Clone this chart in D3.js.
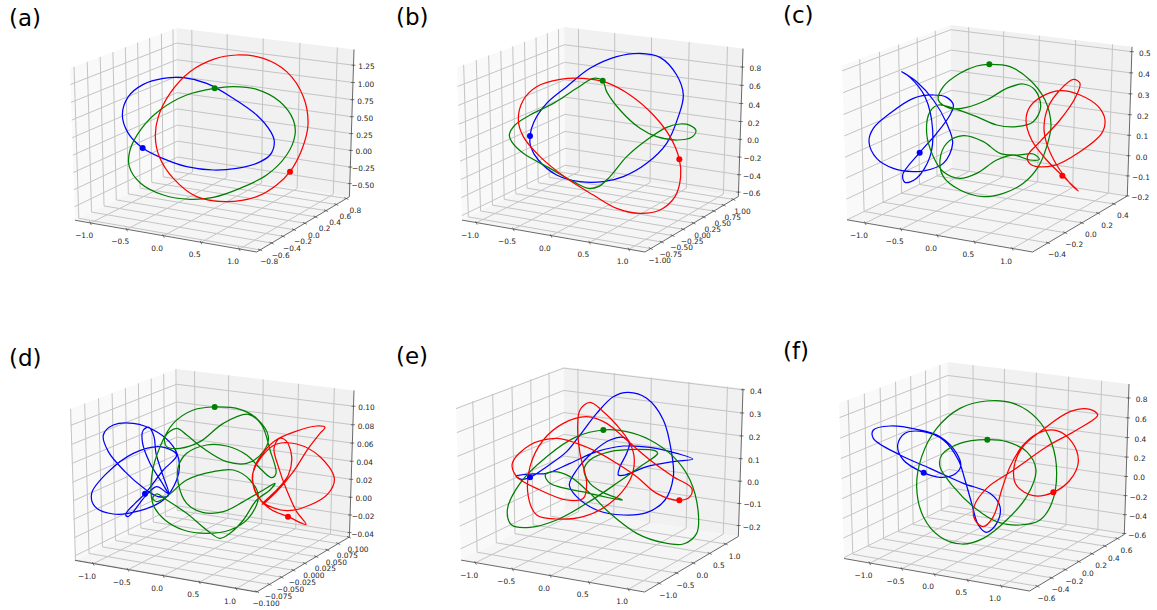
<!DOCTYPE html>
<html>
<head>
<meta charset="utf-8">
<script src="https://cdn.jsdelivr.net/npm/d3@7"></script>
<style>
body { margin: 0; background: #fff; }
text { font-family: "DejaVu Sans", sans-serif; fill: #262626; }
</style>
</head>
<body>
<svg id="chart" width="1157" height="610"></svg>
<script>
// orbit points: first value on the x axis, second is
// the height in units of the panel's zUnit. first point of each is the body
const aBlue = [[-.848,.032],[-1.02,.208],[-1.092,.428],[-1.02,.648],[-.84,.796],[-.6,.868],[-.36,.876],[-.08,.808],[.24,.628],[.52,.428],[.688,.228],[.732,.108],[.68,-.052],[.52,-.152],[.28,-.212],[0,-.232],[-.32,-.192],[-.6,-.096]];
const aGreen = [[.016,.748],[.24,.768],[.52,.736],[.8,.588],[.96,.368],[.98,.188],[.88,-.052],[.64,-.292],[.32,-.452],[0,-.56],[-.28,-.584],[-.6,-.532],[-.88,-.384],[-1.008,-.192],[-1,.008],[-.86,.268],[-.64,.488],[-.32,.668]];
const aRed = [[.92,-.252],[1.06,.008],[1.136,.308],[1.08,.648],[.88,.948],[.6,1.108],[.28,1.148],[0,1.096],[-.28,.948],[-.52,.688],[-.66,.408],[-.696,.168],[-.648,-.072],[-.48,-.332],[-.2,-.552],[.16,-.612],[.52,-.552],[.76,-.412]];

const bBlue = [[-.88,.036],[-.832,.208],[-.68,.428],[-.44,.628],[-.16,.848],[.16,.988],[.44,1.028],[.68,.98],[.88,.768],[.96,.528],[.9,.268],[.76,-.052],[.52,-.292],[.24,-.452],[0,-.512],[-.28,-.512],[-.56,-.432],[-.78,-.252],[-.872,-.092]];
const bGreen = [[-.008,.7],[.04,.568],[.2,.348],[.44,.128],[.64,.028],[.88,-.012],[1.06,.02],[1.112,.1],[1.04,.164],[.92,.18],[.76,.14],[.52,-.012],[.28,-.212],[.08,-.452],[-.06,-.572],[-.18,-.592],[-.36,-.512],[-.64,-.352],[-.96,-.172],[-1.1,-.032],[-1.128,.048],[-1.06,.168],[-.88,.288],[-.6,.428],[-.32,.608],[-.12,.728]];
const bRed = [[.912,-.244],[.928,-.452],[.86,-.692],[.68,-.852],[.44,-.892],[.16,-.832],[-.12,-.672],[-.44,-.472],[-.76,-.212],[-.96,.028],[-1.02,.228],[-.96,.468],[-.8,.628],[-.52,.716],[-.24,.728],[.04,.676],[.32,.528],[.6,.288],[.8,.028]];

const cBlue = [[-.764,.032],[-.56,.264],[-.4,.484],[-.36,.604],[-.44,.696],[-.6,.724],[-.84,.684],[-1.12,.504],[-1.32,.324],[-1.372,.164],[-1.28,-.036],[-1.08,-.156],[-.84,-.196],[-.72,-.188],[-.48,-.096],[-.368,.144],[-.44,.384],[-.6,.664],[-.8,.884],[-.98,1.004],[-.88,.936],[-.7,.704],[-.608,.304],[-.64,-.016],[-.8,-.276],[-.94,-.324],[-.968,-.236]];
const cGreen = [[.072,1.092],[.32,1.064],[.56,.904],[.74,.664],[.812,.364],[.76,.104],[.66,-.136],[.48,-.336],[.24,-.456],[0,-.496],[-.28,-.416],[-.48,-.256],[-.52,-.056],[-.44,.144],[-.24,.236],[0,.164],[.2,.024],[.4,.004],[.6,.016],[.672,-.048],[.56,-.056],[.36,.004],[.16,-.056],[-.08,-.216],[-.28,-.276],[-.48,-.196],[-.6,-.016],[-.68,.264],[-.64,.524],[-.54,.604],[-.36,.564],[-.08,.464],[.16,.364],[.4,.344],[.6,.404],[.688,.584],[.62,.784],[.48,.856],[.28,.804],[.04,.664],[-.2,.576],[-.4,.564],[-.54,.664],[-.48,.824],[-.28,.984],[-.08,1.072]];
const cRed = [[.948,-.244],[1.14,-.428],[1.04,-.336],[.88,-.116],[.76,.144],[.728,.344],[.78,.584],[.92,.784],[1.08,.912],[1.16,.864],[1.1,.684],[.92,.424],[.68,.164],[.528,-.016],[.58,-.116],[.84,-.124],[1.16,.044],[1.42,.264],[1.46,.424],[1.38,.584],[1.16,.724],[.92,.776],[.7,.704],[.56,.584],[.512,.424],[.58,.184],[.76,-.056]];

const dBlue = [[-.82,.036],[-.6,.32],[-.44,.5],[-.64,.6],[-.96,.52],[-1.28,.28],[-1.46,.04],[-1.42,-.12],[-1.2,-.208],[-.88,-.168],[-.6,-.04],[-.44,.2],[-.408,.4],[-.48,.6],[-.68,.78],[-.96,.88],[-1.2,.86],[-1.32,.74],[-1.26,.54],[-1.06,.3],[-.832,.1],[-.66,0],[-.54,.012],[-.6,.14],[-.76,.4],[-.852,.66],[-.84,.8],[-.772,.832],[-.712,.72],[-.688,.52],[-.6,.24],[-.54,.04],[-.68,.12],[-.82,0],[-.96,-.18],[-1.028,-.24],[-1.052,-.212],[-.94,-.08]];
const dGreen = [[.016,1.076],[.32,1.048],[.52,.94],[.66,.72],[.6,.54],[.4,.4],[.16,.42],[-.12,.58],[-.32,.74],[-.44,.82],[-.58,.72],[-.56,.6],[-.4,.58],[-.16,.66],[.12,.88],[.42,.988],[.58,.86],[.68,.56],[.752,.28],[.7,.228],[.58,.32],[.4,.5],[.16,.608],[-.08,.62],[-.32,.52],[-.42,.36],[-.42,.16],[-.32,-.08],[-.12,-.192],[.12,-.18],[.36,-.06],[.6,.08],[.74,.16],[.68,.08],[.52,-.04],[.36,-.28],[.2,-.44],[.08,-.5],[-.08,-.4],[-.32,-.2],[-.56,-.04],[-.68,.032],[-.728,-.02],[-.68,-.06],[-.56,0],[-.32,.2],[0,.3],[.24,.32],[.44,.2],[.54,0],[.42,-.26],[.2,-.4],[-.08,-.44],[-.36,-.4],[-.58,-.28],[-.72,-.1],[-.74,.24],[-.64,.6],[-.48,.88],[-.24,1.04]];
const dRed = [[.896,-.24],[1.112,-.332],[1,-.18],[.88,.08],[.78,.36],[.728,.58],[.792,.7],[.872,.672],[.94,.48],[.9,.26],[.76,.08],[.6,-.072],[.588,-.092],[.76,.06],[.96,.3],[1.14,.58],[1.28,.76],[1.34,.832],[1.24,.848],[.98,.78],[.74,.672],[.608,.54],[.488,.34],[.488,.1],[.6,-.072],[.88,-.168],[1.16,-.1],[1.38,.04],[1.452,.22],[1.28,.48],[1,.632],[.76,.632],[.58,.48],[.468,.24],[.54,0],[.688,-.152]];

const eBlue = [[-.88,.032],[-.68,.16],[-.44,.34],[-.28,.54],[-.08,.8],[.12,1],[.3,1.052],[.52,.98],[.72,.72],[.82,.32],[.84,.04],[.74,-.24],[.52,-.392],[.24,-.42],[-.08,-.36],[-.32,-.2],[-.408,-.06],[-.32,.12],[-.12,.34],[.08,.48],[.24,.512],[.312,.44],[.28,.32],[.2,.16],[.18,.06],[.26,.06],[.52,.16],[.84,.22],[1.072,.252],[.88,.32],[.56,.392],[.24,.408],[-.08,.34],[-.4,.2],[-.68,.08],[-.88,.072],[-1.048,.048],[-.98,.008]];
const eGreen = [[0,.6],[.28,.58],[.56,.48],[.84,.28],[1.04,0],[1.14,-.4],[1.12,-.64],[.96,-.768],[.72,-.752],[.4,-.64],[.08,-.4],[-.16,-.16],[-.4,.04],[-.6,.1],[-.696,.06],[-.64,-.04],[-.2,-.152],[.228,-.24],[0,-.152],[-.16,-.04],[-.232,.12],[-.16,.24],[.08,.34],[.4,.368],[.62,.352],[.652,.32],[.44,.16],[.16,-.04],[-.2,-.28],[-.56,-.48],[-.88,-.568],[-1.1,-.54],[-1.152,-.36],[-1,-.04],[-.68,.28],[-.32,.52]];
const eRed = [[.912,-.244],[.64,-.16],[.4,.04],[.16,.2],[-.08,.34],[-.32,.44],[-.56,.5],[-.88,.42],[-1.092,.2],[-1.04,.04],[-.76,-.12],[-.44,-.24],[-.24,-.22],[-.2,-.04],[-.28,.32],[-.308,.64],[-.28,.84],[-.16,.932],[0,.82],[.16,.66],[.32,.44],[.372,.24],[.32,0],[.08,-.28],[-.24,-.44],[-.56,-.468],[-.8,-.42],[-.9,-.2],[-.88,.16],[-.72,.48],[-.48,.68],[-.2,.76],[.04,.68],[.28,.48],[.56,.24],[.84,.04],[1.06,-.1],[1.04,-.2]];

const fBlue = [[-.716,.016],[-.52,-.04],[-.36,-.012],[-.272,.088],[-.32,.248],[-.52,.448],[-.8,.536],[-1.12,.576],[-1.32,.528],[-1.32,.428],[-1,.228],[-.64,.068],[-.24,-.112],[.08,-.232],[.2,-.392],[.16,-.592],[.04,-.7],[-.06,-.612],[-.14,-.352],[-.22,-.072],[-.3,.168],[-.48,.408],[-.72,.508],[-.94,.488],[-1.028,.348],[-.96,.168]];
const fGreen = [[.048,.412],[-.28,.368],[-.5,.228],[-.52,.088],[-.36,-.152],[-.12,-.392],[.16,-.572],[.44,-.612],[.68,-.552],[.82,-.352],[.88,.008],[.82,.368],[.64,.668],[.36,.848],[.04,.876],[-.28,.788],[-.56,.548],[-.74,.208],[-.8,-.152],[-.72,-.512],[-.52,-.752],[-.26,-.84],[0,-.772],[.28,-.552],[.52,-.272],[.632,.048],[.52,.268],[.28,.388]];
const fRed = [[.84,-.22],[1.04,-.072],[1.14,.148],[1.06,.388],[.88,.52],[.68,.5],[.48,.348],[.32,.088],[.22,-.192],[.12,-.512],[0,-.632],[-.1,-.552],[-.112,-.392],[.04,-.172],[.364,.048],[.76,.328],[1.12,.528],[1.372,.708],[1.28,.776],[1.04,.748],[.72,.536],[.46,.308],[.364,.048],[.4,-.14],[.6,-.26]];

// tick labels
const xTicks = [-1, -0.5, 0, 0.5, 1];
const yTicksA = [-.8, -.6, -.4, -.2, 0, .2, .4, .6, .8];
const yTicksB = [-1, -.75, -.5, -.25, 0, .25, .5, .75, 1];
const yTicksC = [-.4, -.2, 0, .2, .4];
const yTicksD = [-.1, -.075, -.05, -.025, 0, .025, .05, .075, .1];
const yTicksE = [-1, -.5, 0, .5, 1];
const yTicksF = [-.6, -.4, -.2, 0, .2, .4, .6];
const zTicksA = [-.5, -.25, 0, .25, .5, .75, 1, 1.25];
const zTicksB = [-.6, -.4, -.2, 0, .2, .4, .6, .8];
const zTicksC = [-.2, -.1, 0, .1, .2, .3, .4, .5];
const zTicksD = [-.04, -.02, 0, .02, .04, .06, .08, .1];
const zTicksE = [-.2, -.1, 0, .1, .2, .3, .4];
const zTicksF = [-.6, -.4, -.2, 0, .2, .4, .6, .8];

const colors = ['#0000ff', '#008000', '#ff0000'];
const elev = 20, azim = -61, dist = 10;

// box = outer pixel bounds of the 3d box, ox/oy = crop origin of the panel
const panels = [
    {label: '(a)', lx: 9, ly: 26, box: [70, 354, 28, 252], ox: 0, oy: 0, xl: 1.22, yl: .86, zl: [-.7, 1.475], yt: yTicksA, zt: zTicksA, yd: 1, zd: 2, zero: 452, zUnit: 1.223, curves: [aBlue, aGreen, aRed]},
    {label: '(b)', lx: 396, ly: 25, box: [457, 743, 27, 252], ox: 390, oy: 0, xl: 1.2, yl: 1.13, zl: [-.65, 1], yt: yTicksB, zt: zTicksB, yd: 2, zd: 1, zero: 417, zUnit: .9225, curves: [bBlue, bGreen, bRed]},
    {label: '(c)', lx: 783, ly: 23, box: [842, 1132, 25, 252], ox: 770, oy: 0, xl: 1.26, yl: .575, zl: [-.2, .523], yt: yTicksC, zt: zTicksC, yd: 1, zd: 1, zero: 466, zUnit: .4098, curves: [cBlue, cGreen, cRed]},
    {label: '(d)', lx: 9, ly: 366, box: [70, 354, 369, 592], ox: 0, oy: 320, xl: 1.27, yl: .101, zl: [-.045, .117], yt: yTicksD, zt: zTicksD, yd: 3, zd: 2, zero: 530, zUnit: .0926, curves: [dBlue, dGreen, dRed]},
    {label: '(e)', lx: 396, ly: 364, box: [456, 743, 367, 592], ox: 390, oy: 320, xl: 1.2, yl: 1.41, zl: [-.25, .405], yt: yTicksE, zt: zTicksE, yd: 1, zd: 1, zero: 480, zUnit: .373, curves: [eBlue, eGreen, eRed]},
    {label: '(f)', lx: 783, ly: 359, box: [839, 1129, 362, 591], ox: 770, oy: 320, xl: 1.41, yl: .71, zl: [-.61, .94], yt: yTicksF, zt: zTicksF, yd: 1, zd: 1, zero: 462, zUnit: .888, curves: [fBlue, fGreen, fRed]},
];

// same idea as mplot3d: look at the unit box from elev/azim with weak perspective
function viewOf(bx, by, bz) {
    const el = elev * Math.PI / 180, az = azim * Math.PI / 180;
    const px = bx - .5, py = by - .5, pz = bz - .5;
    const right = [-Math.sin(az), Math.cos(az), 0];
    const up = [-Math.sin(el) * Math.cos(az), -Math.sin(el) * Math.sin(az), Math.cos(el)];
    const back = [Math.cos(el) * Math.cos(az), Math.cos(el) * Math.sin(az), Math.sin(el)];
    const w = dist - (px * back[0] + py * back[1] + pz * back[2]);
    return [
        (px * right[0] + py * right[1] + pz * right[2]) / w,
        (px * up[0] + py * up[1] + pz * up[2]) / w,
    ];
}

const corners = d3.cross([0, 1], d3.cross([0, 1], [0, 1])).map(([a, [b, c]]) => viewOf(a, b, c));
const viewX = d3.extent(corners, d => d[0]);
const viewY = d3.extent(corners, d => d[1]);

function fmt(v, decimals) {
    return v.toFixed(decimals).replace('-', '\u2212');
}

function drawPanel(svg, p) {
    const g = svg.append('g');
    const screenX = d3.scaleLinear().domain(viewX).range([p.box[0], p.box[1]]);
    const screenY = d3.scaleLinear().domain(viewY).range([p.box[3], p.box[2]]);
    const bx = d3.scaleLinear().domain([-p.xl, p.xl]).range([0, 1]);
    const by = d3.scaleLinear().domain([-p.yl, p.yl]).range([0, 1]);
    const bz = d3.scaleLinear().domain(p.zl).range([0, 1]);
    const proj = (a, b, c) => {
        const v = viewOf(a, b, c);
        return [screenX(v[0]), screenY(v[1])];
    };
    const line = d3.line();

    const panes = [
        {fill: '#f9f9f9', pts: [[0, 0, 0], [0, 1, 0], [0, 1, 1], [0, 0, 1]]},
        {fill: '#f1f1f1', pts: [[0, 1, 0], [1, 1, 0], [1, 1, 1], [0, 1, 1]]},
        {fill: '#f5f5f5', pts: [[0, 0, 0], [1, 0, 0], [1, 1, 0], [0, 1, 0]]},
    ];
    g.selectAll('path.pane').data(panes).join('path')
        .attr('class', 'pane')
        .attr('fill', d => d.fill)
        .attr('d', d => line(d.pts.map(q => proj(...q))) + 'Z');

    const grid = [];
    xTicks.forEach(t => {
        const a = bx(t);
        grid.push([[a, 0, 0], [a, 1, 0], [a, 1, 1]]);
    });
    p.yt.forEach(t => {
        const b = by(t);
        grid.push([[1, b, 0], [0, b, 0], [0, b, 1]]);
    });
    p.zt.forEach(t => {
        const c = bz(t);
        grid.push([[0, 0, c], [0, 1, c], [1, 1, c]]);
    });
    g.selectAll('path.grid').data(grid).join('path')
        .attr('class', 'grid')
        .attr('fill', 'none')
        .attr('stroke', '#c4c4c4')
        .attr('stroke-width', 1)
        .attr('d', d => line(d.map(q => proj(...q))));

    const axes = [
        [[0, 0, 0], [1, 0, 0]],
        [[1, 0, 0], [1, 1, 0]],
        [[1, 1, 0], [1, 1, 1]],
    ];
    g.selectAll('path.axis').data(axes).join('path')
        .attr('class', 'axis')
        .attr('stroke', '#444')
        .attr('stroke-width', .8)
        .attr('d', d => line(d.map(q => proj(...q))));

    // ticks and their labels
    const labels = [];
    const tickMarks = [];
    xTicks.forEach(t => {
        const [x, y] = proj(bx(t), 0, 0);
        tickMarks.push([[x - 1, y - 1.5], [x + .6, y + 2]]);
        labels.push({x: x - 6.5, y: y + 13, s: fmt(t, 1), anchor: 'middle'});
    });
    p.yt.forEach(t => {
        const [x, y] = proj(1, by(t), 0);
        tickMarks.push([[x - 2, y - 1], [x + 2, y + 1]]);
        labels.push({x: x + 9, y: y + 12.5, s: fmt(t, p.yd), anchor: 'middle'});
    });
    p.zt.forEach(t => {
        const [x, y] = proj(1, 1, bz(t));
        tickMarks.push([[x - 2, y], [x + 2, y]]);
        labels.push({x: x + 13, y: y + 2, s: fmt(t, p.zd), anchor: 'middle'});
    });
    g.selectAll('path.tick').data(tickMarks).join('path')
        .attr('class', 'tick')
        .attr('stroke', '#444')
        .attr('stroke-width', .7)
        .attr('d', line);
    g.selectAll('text.tl').data(labels).join('text')
        .attr('class', 'tl')
        .attr('x', d => d.x)
        .attr('y', d => d.y)
        .attr('text-anchor', d => d.anchor)
        .attr('dominant-baseline', 'middle')
        .attr('font-size', 7.4)
        .text(d => d.s);

    // orbits, plotted against the picture plane of the panel
    const orbitX = d3.scaleLinear().domain([-1, 1]).range([p.ox + 130, p.ox + 890 / 3]);
    const orbitZ = d3.scaleLinear().domain([0, p.zUnit])
        .range([p.oy + p.zero / 3, p.oy + (p.zero - 250) / 3]);
    const orbit = d3.line()
        .x(d => orbitX(d[0]))
        .y(d => orbitZ(d[1] * p.zUnit))
        .curve(d3.curveCatmullRomClosed.alpha(.5));
    g.selectAll('path.orbit').data(p.curves).join('path')
        .attr('class', 'orbit')
        .attr('fill', 'none')
        .attr('stroke', (d, i) => colors[i])
        .attr('stroke-width', 1.25)
        .attr('d', orbit);
    g.selectAll('circle.body').data(p.curves).join('circle')
        .attr('class', 'body')
        .attr('r', 3)
        .attr('fill', (d, i) => colors[i])
        .attr('cx', d => orbitX(d[0][0]))
        .attr('cy', d => orbitZ(d[0][1] * p.zUnit));

    g.append('text')
        .attr('x', p.lx)
        .attr('y', p.ly)
        .attr('font-size', 23)
        .style('fill', '#000')
        .text(p.label);
}

const svg = d3.select('#chart');
panels.forEach(p => drawPanel(svg, p));
</script>
</body>
</html>
